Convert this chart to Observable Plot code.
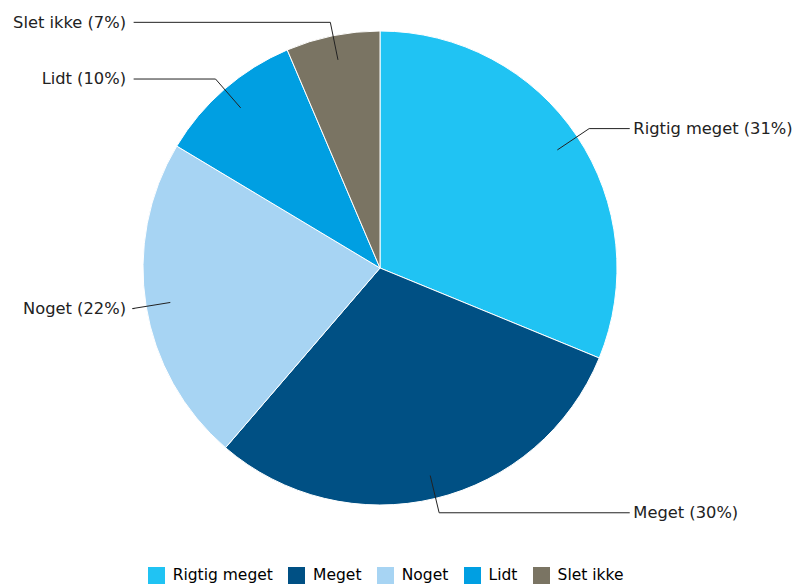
<!DOCTYPE html>
<html>
<head>
<meta charset="utf-8">
<script src="https://cdn.jsdelivr.net/npm/d3@7"></script>
<script src="https://cdn.jsdelivr.net/npm/@observablehq/plot@0.6"></script>
<style>
  html, body { margin: 0; padding: 0; background: #fff; }
  body { width: 795px; height: 585px; overflow: hidden; font-family: "DejaVu Sans", Verdana, sans-serif; }
  #chart svg { display: block; }
  #legend { display: flex; justify-content: center; margin-top: 21px; padding-right: 8px; }
  div.lg-swatches { margin: 0 !important; min-height: 0 !important; }
  div.lg-swatch { margin-right: 12px !important; color: #222; }
  div.lg-swatch > svg { margin-right: 10px !important; }
</style>
</head>
<body>
<div id="chart"></div>
<div id="legend"></div>
<script>
// ---- data ----
const categories = ["Rigtig meget", "Meget", "Noget", "Lidt", "Slet ikke"];
const shares = [31.2, 30.1, 22.3, 10.0, 6.4];      // slice sizes (%)
const labelPct = [31, 30, 22, 10, 7];              // printed percentages
const colors = ["#20c3f3", "#005084", "#a7d4f3", "#009fe2", "#7a7463"];

// ---- layout ----
const W = 795, H = 545;
const cx = 380, cy = 268, R = 237;

const rows = categories.map((c, i) => ({cat: c, value: shares[i], pct: labelPct[i]}));
const arcs = d3.pie().sort(null).value(d => d.value)(rows);
const colorOf = d3.scaleOrdinal().domain(categories).range(colors);

// leader lines & labels in unit-circle coordinates
const leaders = [];
const labels = [];
arcs.forEach(a => {
  const mid = (a.startAngle + a.endAngle) / 2;
  const sx = Math.sin(mid), sy = Math.cos(mid);
  const right = sx > 0;
  const p0 = [0.9 * sx, 0.9 * sy];
  const p1 = [1.06 * sx, 1.06 * sy];
  const endX = right ? 1.05 : -1.04;
  [p0, p1, [endX, p1[1]]].forEach(p => leaders.push({cat: a.data.cat, x: p[0], y: p[1]}));
  labels.push({x: endX, y: p1[1], text: `${a.data.cat} (${a.data.pct}%)`, right});
});

function pieMark(index, scales) {
  const x = scales.x, y = scales.y;
  const ox = x(0), oy = y(0), r = x(1) - x(0);
  const arc = d3.arc().innerRadius(0).outerRadius(r);
  const g = d3.create("svg:g").attr("transform", `translate(${ox},${oy})`);
  g.selectAll("path").data(arcs).join("path")
    .attr("d", arc)
    .attr("fill", d => colorOf(d.data.cat))
    .attr("stroke", "#ffffff")
    .attr("stroke-width", 1)
    .attr("stroke-linejoin", "round");
  return g.node();
}

const chart = Plot.plot({
  width: W,
  height: H,
  margin: 0,
  x: {domain: [-cx / R, (W - cx) / R], range: [0, W], axis: null},
  y: {domain: [cy / R, -(H - cy) / R], range: [0, H], axis: null},
  style: {fontFamily: '"DejaVu Sans", Verdana, sans-serif', background: "#fff"},
  marks: [
    pieMark,
    Plot.line(leaders, {x: "x", y: "y", z: "cat", stroke: "#222", strokeWidth: 1}),
    Plot.text(labels.filter(d => d.right), {x: "x", y: "y", text: "text", textAnchor: "start", dx: 4, fontSize: 16.3, fill: "#222"}),
    Plot.text(labels.filter(d => !d.right), {x: "x", y: "y", text: "text", textAnchor: "end", dx: -8, fontSize: 16.3, fill: "#222"})
  ]
});
document.getElementById("chart").appendChild(chart);

const legend = Plot.legend({
  color: {type: "ordinal", domain: categories, range: colors},
  swatchSize: 17,
  className: "lg",
  style: {fontSize: "15.5px", fontFamily: '"DejaVu Sans", Verdana, sans-serif'}
});
document.getElementById("legend").appendChild(legend);
</script>
</body>
</html>
